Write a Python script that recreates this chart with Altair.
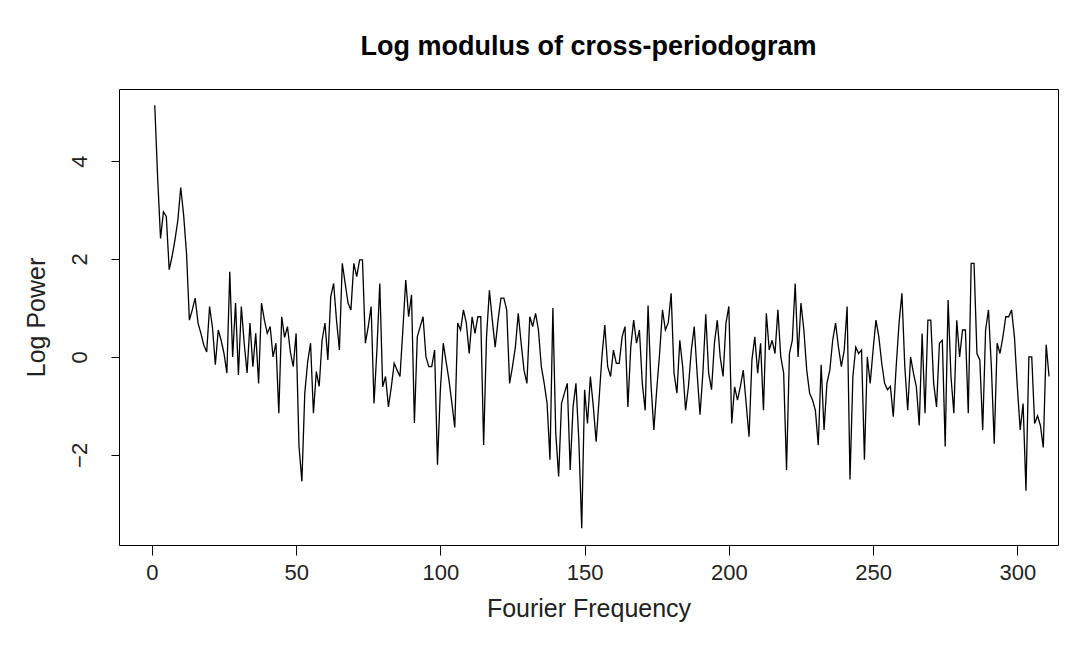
import altair as alt
import pandas as pd

# Log power of the cross-periodogram (index 1..311)
seg_01_28 = [5.14, 3.65, 2.42, 2.96, 2.87, 1.78, 2.05, 2.39, 2.79, 3.46, 2.9, 2.12, 0.75, 0.96,
             1.2, 0.69, 0.48, 0.24, 0.1, 1.03, 0.6, -0.16, 0.55, 0.34, 0.07, -0.33, 1.74, 0.0]
seg_29_59 = [1.1, -0.37, 1.03, 0.28, -0.33, 0.69, -0.2, 0.48, -0.54, 1.1, 0.75, 0.48, 0.62, 0.0,
             0.28, -1.15, 0.82, 0.4, 0.62, 0.1, -0.2, 0.48, -1.83, -2.54, -0.74, -0.1, 0.28, -1.15,
             -0.3, -0.6, 0.34]
seg_60_89 = [0.69, -0.06, 1.23, 1.5, 0.75, 0.14, 1.91, 1.5, 1.1, 0.96, 1.91, 1.64, 1.98, 1.98,
             0.28, 0.62, 1.03, -0.95, 0.14, 1.5, -0.61, -0.4, -1.02, -0.61, -0.13, -0.27, -0.4,
             0.55, 1.57, 0.82]
seg_90_120 = [1.27, -1.35, 0.41, 0.62, 0.82, 0.0, -0.2, -0.2, 0.14, -2.2, -0.67, 0.28, -0.1,
              -0.48, -0.95, -1.44, 0.69, 0.55, 0.96, 0.69, 0.07, 0.82, 0.48, 0.82, 0.82, -1.8,
              0.41, 1.36, 0.75, 0.2, 0.75]
seg_121_150 = [1.2, 1.2, 0.96, -0.54, -0.2, 0.2, 0.89, 0.28, -0.27, -0.54, 0.82, 0.62, 0.89,
               0.55, -0.2, -0.54, -0.95, -2.1, 1.0, -1.56, -2.44, -0.95, -0.74, -0.54, -2.31,
               -1.02, -0.54, -1.7, -3.5, -0.67]
seg_151_181 = [-1.36, -0.4, -1.0, -1.73, -0.88, 0.0, 0.65, -0.2, -0.4, 0.14, -0.13, -0.13, 0.41,
               0.62, -1.02, 0.2, 0.75, 0.28, 0.55, -0.54, -1.09, 1.05, -0.54, -1.49, -0.67, 0.07,
               0.96, 0.55, 0.7, 1.3, -0.33]
seg_182_211 = [-0.74, 0.34, -0.2, -1.09, -0.6, 0.14, 0.62, -0.33, -1.18, -0.33, 0.87, -0.33,
               -0.67, 0.28, 0.75, 0.0, -0.4, 0.69, 1.03, -1.36, -0.61, -0.88, -0.6, -0.27, -0.95,
               -1.63, -0.06, 0.41, -0.33, 0.28]
seg_212_242 = [-1.09, 0.89, 0.14, 0.34, 0.07, 0.96, 0.0, -0.33, -2.31, 0.07, 0.34, 1.5, 0.0, 1.1,
               0.55, -0.27, -0.74, -0.88, -1.09, -1.8, -0.16, -1.49, -0.54, -0.27, 0.34, 0.69,
               0.2, -0.2, 0.14, 1.03, -2.5]
seg_243_272 = [-0.4, 0.2, 0.07, 0.14, -2.1, 0.0, -0.54, 0.14, 0.75, 0.41, -0.13, -0.54, -0.67,
               -0.6, -1.22, -0.2, 0.69, 1.3, -0.2, -1.09, 0.0, -0.33, -0.61, -1.4, 0.48, -1.15,
               0.75, 0.75, -0.54, -1.02]
seg_273_311 = [0.28, 0.34, -1.83, 1.16, -0.4, -1.15, 0.75, 0.0, 0.55, 0.55, -1.15, 1.91, 1.91,
               0.07, -0.06, -1.49, 0.55, 0.96, -0.2, -1.77, 0.28, 0.07, 0.41, 0.82, 0.82, 0.96,
               0.41, -0.61, -1.49, -0.95, -2.73, 0.0, 0.0, -1.36, -1.2, -1.4, -1.85, 0.25, -0.4]

log_power = (seg_01_28 + seg_29_59 + seg_60_89 + seg_90_120 + seg_121_150 + seg_151_181
             + seg_182_211 + seg_212_242 + seg_243_272 + seg_273_311)
frequency = list(range(1, len(log_power) + 1))

x_ticks = [0, 50, 100, 150, 200, 250, 300]
y_ticks = [-2, 0, 2, 4]

df = pd.DataFrame({"freq": frequency, "logp": log_power})

FONT = "Liberation Sans"
W, H = 939, 456

chart = alt.Chart(df).mark_line(color="black", strokeWidth=1.3, clip=True).encode(
    x=alt.X("freq:Q",
            scale=alt.Scale(domain=[-11.4, 314.1], nice=False, zero=False),
            axis=alt.Axis(values=x_ticks, title="Fourier Frequency", grid=False, domain=False,
                          tickColor="black", tickSize=10, tickWidth=1,
                          labelFont=FONT, labelFontSize=22, labelColor="#222222", labelPadding=7,
                          titleFont=FONT, titleFontSize=25, titleFontWeight="normal",
                          titleColor="#222222", titleY=63, titleBaseline="middle")),
    y=alt.Y("logp:Q",
            scale=alt.Scale(domain=[-3.84, 5.47], nice=False, zero=False),
            axis=alt.Axis(values=y_ticks, title="Log Power", grid=False, domain=False,
                          tickColor="black", tickSize=8, tickWidth=1,
                          labelAngle=270, labelAlign="center", labelBaseline="middle",
                          labelFont=FONT, labelFontSize=22, labelColor="#222222", labelPadding=32,
                          titleFont=FONT, titleFontSize=25, titleFontWeight="normal",
                          titleColor="#222222", titleX=-83, titleY=H / 2,
                          titleAlign="center", titleBaseline="middle")),
).properties(
    width=W, height=H,
    title=alt.TitleParams("Log modulus of cross-periodogram", font=FONT, fontSize=27,
                          fontWeight="bold", color="black", anchor="middle", offset=7,
                          baseline="alphabetic"),
    autosize=alt.AutoSizeParams(type="none"),
    padding={"left": 111, "top": 81, "right": 10, "bottom": 95},
).configure(
    background="white",
    view=alt.ViewConfig(stroke="black", strokeWidth=1),
)

chart.save("out.html", embed_options={"renderer": "svg", "actions": False})
